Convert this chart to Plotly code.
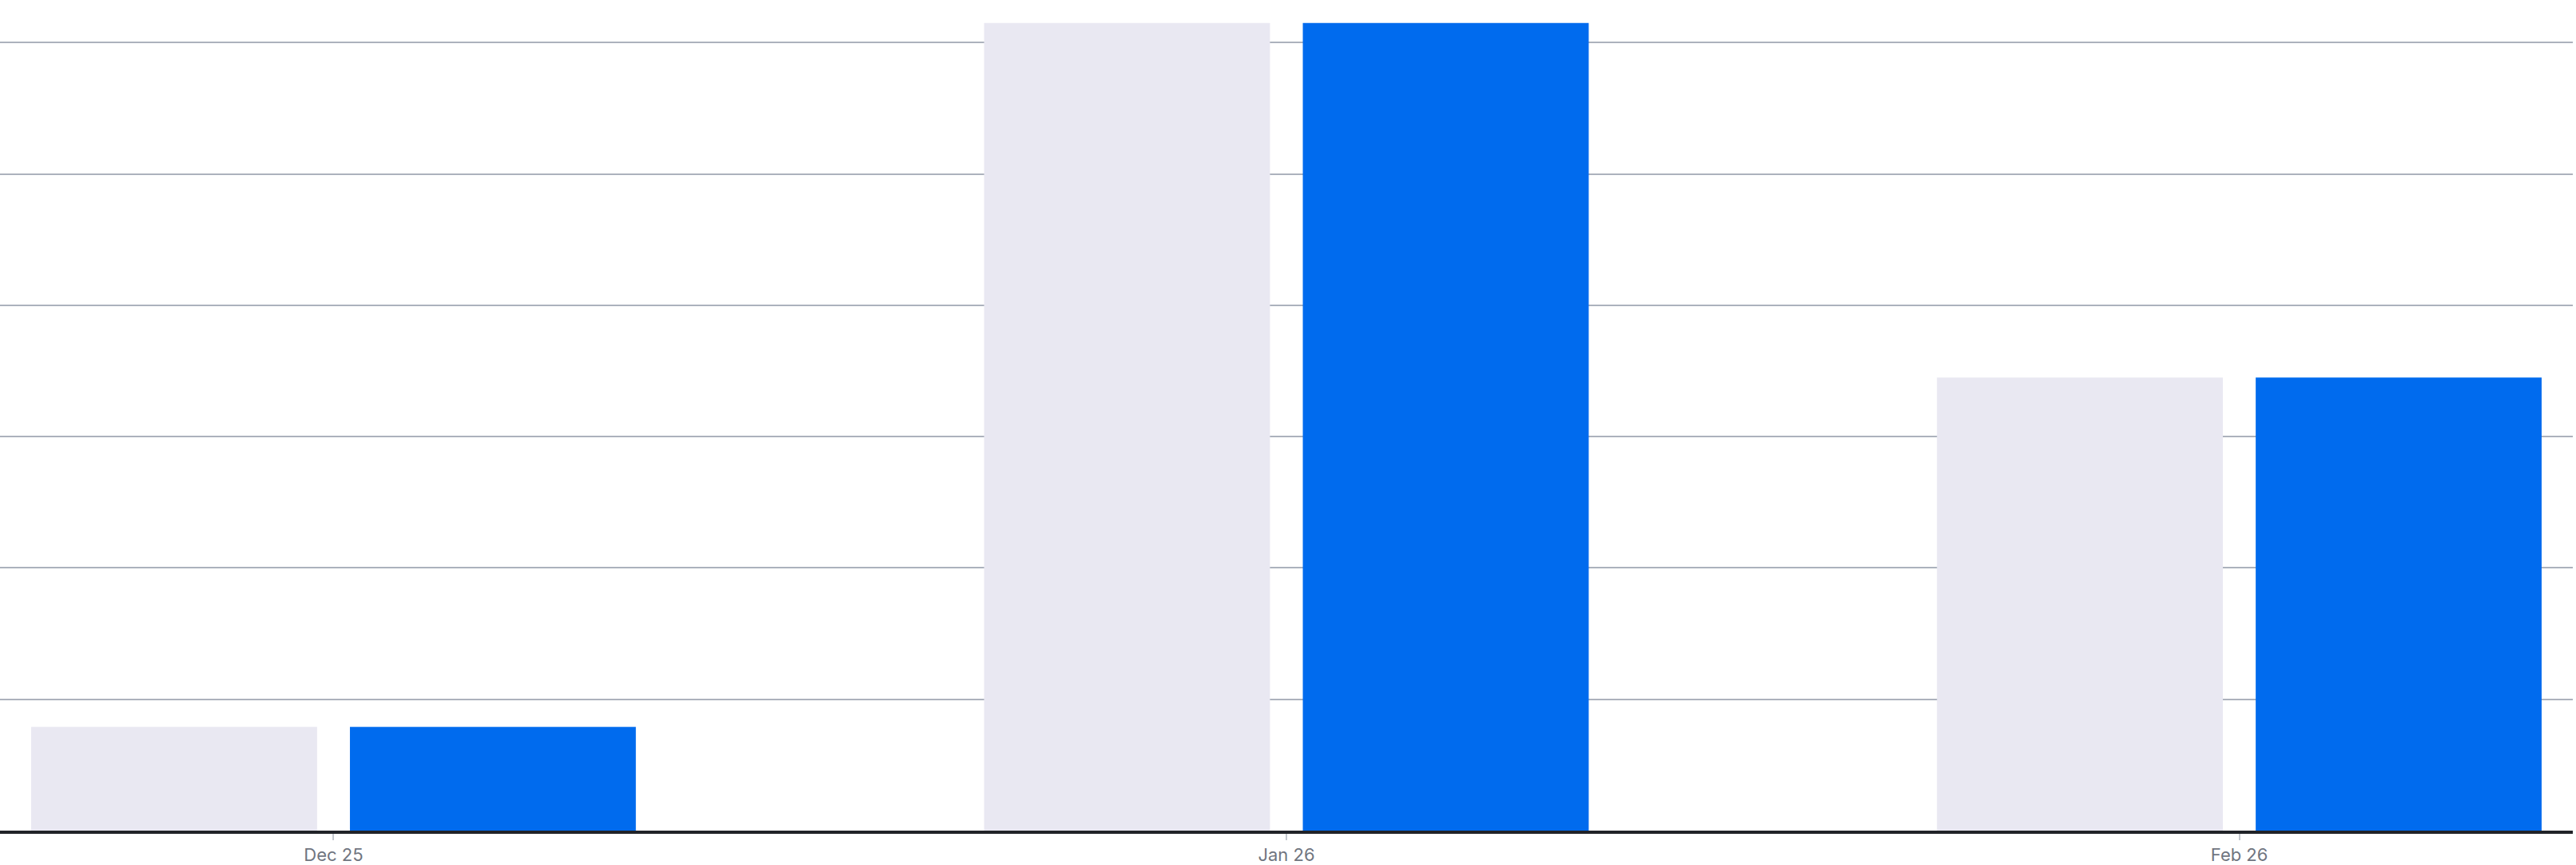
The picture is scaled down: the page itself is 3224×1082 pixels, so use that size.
import plotly.graph_objects as go

# monthly values, two series (previous vs current)
months = ["Dec 25", "Jan 26", "Feb 26"]
previous_values = [15.8, 123, 69]
current_values = [15.8, 123, 69]

fig = go.Figure()
fig.add_trace(go.Bar(x=months, y=previous_values, name="Previous",
                     marker=dict(color="#E9E8F2", line=dict(width=0))))
fig.add_trace(go.Bar(x=months, y=current_values, name="Current",
                     marker=dict(color="#006BEE", line=dict(width=0))))

fig.update_layout(
    width=3224, height=1082,
    margin=dict(l=0, r=4, t=0, b=38),
    barmode="group", bargap=0.331, bargroupgap=0.103,
    showlegend=False,
    plot_bgcolor="white", paper_bgcolor="white",
    font=dict(family="Inter", size=22, color="#6B7280"),
)
fig.update_xaxes(type="category", range=[-0.35, 2.35],
                 showline=True, linewidth=4, linecolor="#212328",
                 ticks="outside", ticklen=8, tickwidth=2, tickcolor="#C4C8CF",
                 showgrid=False, tickfont=dict(size=22, color="#70757F"))
fig.update_yaxes(range=[0, 126.5], dtick=20, showticklabels=False,
                 showgrid=True, gridcolor="#ACB2BD", gridwidth=2,
                 zeroline=False)

# drop the default page margin so the chart sits flush in the window
fig.write_html("out.html", config={"displayModeBar": False},
               post_script="document.body.style.margin='0';")
